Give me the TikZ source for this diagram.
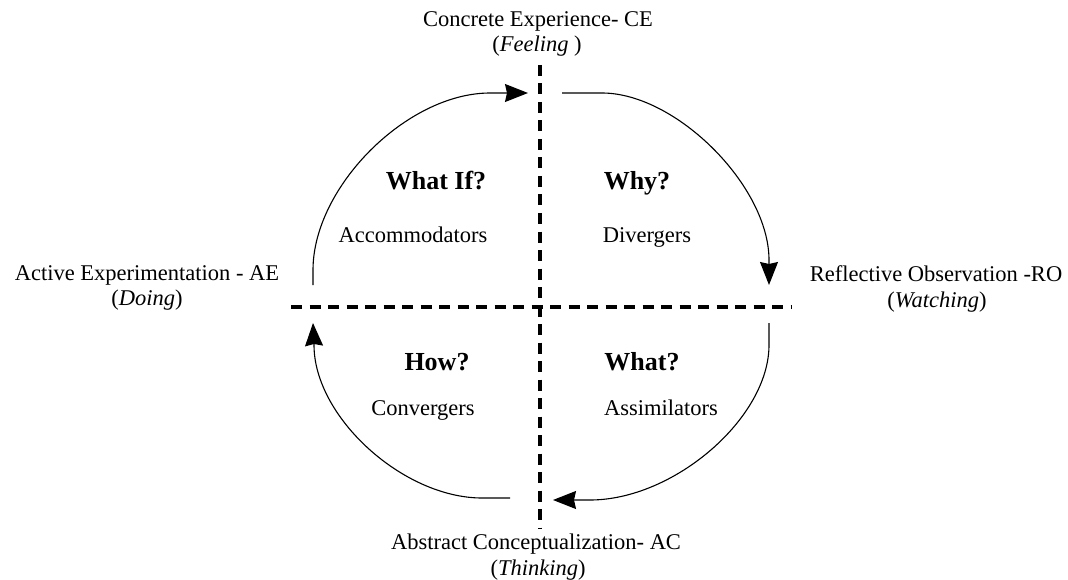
\documentclass[tikz,border=0pt]{standalone}
\usepackage{fontspec}
\setmainfont{Liberation Serif}
\usetikzlibrary{arrows.meta}
\begin{document}
\begin{tikzpicture}[x=1pt,y=-1pt,
  lbl/.style={font=\fontsize{22.5}{26}\selectfont, anchor=base, inner sep=0pt},
  big/.style={font=\fontsize{26}{30}\selectfont\bfseries, anchor=base, inner sep=0pt},
  axisline/.style={line width=3.3pt, dash pattern=on 11pt off 7.5pt},
  cyc/.style={line width=1.1pt, -{Stealth[length=23pt,width=18pt,inset=2pt]}}]
\useasboundingbox (0,0) rectangle (1068,580);
% axes
\coordinate (vtop) at (540,65);
\coordinate (vbot) at (540,528);
\coordinate (hl) at (291,307);
\coordinate (hr) at (792,307);
\draw[axisline] (vtop) -- (vbot);
\draw[axisline] (hl) -- (hr);
% pole labels
\node[lbl] (ce) at (538,27) {Concrete Experience- CE};
\node[lbl] (ceF) at (537,52) {(\textit{Feeling} )};
\node[lbl] (ae) at (147,280) {Active Experimentation - AE};
\node[lbl] (aeD) at (147,305) {(\textit{Doing})};
\node[lbl] (ro) at (936,281) {Reflective Observation -RO};
\node[lbl] (roW) at (937,307) {(\textit{Watching})};
\node[lbl] (ac) at (536,549) {Abstract Conceptualization- AC};
\node[lbl] (acT) at (538,575) {(\textit{Thinking})};
% quadrant labels
\node[big] (q1t) at (436,190) {What If?};
\node[lbl] (q1s) at (413,243) {Accommodators};
\node[big] (q2t) at (637,190) {Why?};
\node[lbl] (q2s) at (647,243) {Divergers};
\node[big] (q3t) at (437,370) {How?};
\node[lbl] (q3s) at (423,415) {Convergers};
\node[big] (q4t) at (642,370) {What?};
\node[lbl] (q4s) at (661,415) {Assimilators};
% cycle arcs
\coordinate (a1s) at (313,285);
\coordinate (a1e) at (528,93);
\coordinate (a2s) at (562,93);
\coordinate (a2e) at (769,285);
\coordinate (a3s) at (769,323);
\coordinate (a3e) at (553,500);
\coordinate (a4s) at (510,498);
\coordinate (a4e) at (313,323);
\draw[cyc] (a1s) -- (313,270) .. controls (313,187) and (407,93) .. (490,93) -- (a1e);
\draw[cyc] (a2s) -- (602,93) .. controls (676,93) and (769,186) .. (769,260) -- (a2e);
\draw[cyc] (a3s) -- (769,345) .. controls (769,418) and (674,500) .. (590,500) -- (a3e);
\draw[cyc] (a4s) -- (482,498) .. controls (403,498) and (314,417) .. (314,345) -- (a4e);
\end{tikzpicture}
\end{document}
